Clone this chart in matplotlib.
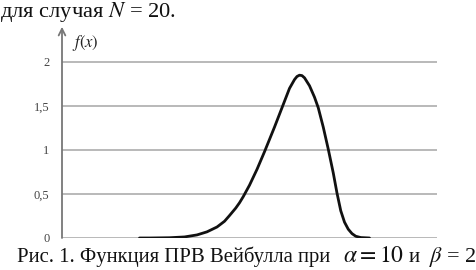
import numpy as np
import matplotlib
matplotlib.use("Agg")
import matplotlib.pyplot as plt

plt.rcParams['font.family'] = ['Liberation Serif', 'DejaVu Serif']
plt.rcParams['mathtext.fontset'] = 'stix'

# points (x in arbitrary units, axis 0..3 unlabeled)
x_vals = [0.62, 0.70, 0.86, 0.98, 1.08, 1.16, 1.24, 1.30, 1.34, 1.39, 1.42,
          1.45, 1.50, 1.56, 1.62, 1.70, 1.76, 1.82, 1.86, 1.88, 1.90, 1.92,
          1.94, 1.98, 2.02, 2.05, 2.09, 2.13, 2.17, 2.20, 2.23, 2.26, 2.29,
          2.32, 2.35, 2.39, 2.46]
f_vals = [0.0, 0.0, 0.003, 0.012, 0.035, 0.07, 0.125, 0.19, 0.255, 0.34, 0.40,
          0.47, 0.60, 0.78, 0.98, 1.26, 1.48, 1.70, 1.80, 1.835, 1.85, 1.845,
          1.82, 1.73, 1.60, 1.48, 1.26, 1.01, 0.74, 0.51, 0.31, 0.18, 0.10,
          0.05, 0.02, 0.005, 0.0]

y_ticks = [0, 0.5, 1, 1.5, 2]
y_tick_labels = ['0', '0,5', '1', '1,5', '2']

fig = plt.figure(figsize=(4.77, 2.70), dpi=100)
ax = fig.add_axes([62/477, 1-238/270, 375/477, 210/270])
ax.set_xlim(0, 3)
ax.set_ylim(0, 2.386)

# gridlines
for t in y_ticks:
    ax.axhline(t, color='#b3b3b3', lw=1.3, zorder=1)

# the curve
ax.plot(x_vals, f_vals, color='#111111', lw=2.0, zorder=3,
        solid_capstyle='round', solid_joinstyle='round')

for s in ax.spines.values():
    s.set_visible(False)
ax.set_xticks([])
ax.set_yticks(y_ticks)
ax.set_yticklabels(y_tick_labels, color='#444444', fontsize=9)
ax.tick_params(axis='y', length=0, pad=9)

# y axis with arrow
ax.annotate('', xy=(0, 2.40), xytext=(0, 0), xycoords='data',
            arrowprops=dict(arrowstyle='->', color='#777777', lw=1.3,
                            mutation_scale=12, shrinkA=0, shrinkB=0),
            annotation_clip=False)
ax.text(0.08, 2.22, '$f(x)$', fontsize=12, color='#222222', va='center')

# surrounding text
fig.text(0.0, 1-16.5/270, 'для случая $N$ = 20.', fontsize=16.2, va='baseline',
         ha='left', color='#111111')
base = 1-262/270
fig.text(17/477, base, 'Рис. 1. Функция ПРВ Вейбулла при',
         fontsize=14.9, va='baseline', ha='left', color='#111111')
fig.text(343/477, base, r'$\alpha=10$', fontsize=17, va='baseline',
         ha='left', color='#111111')
fig.text(409/477, base, 'и', fontsize=15, va='baseline',
         ha='left', color='#111111')
fig.text(429/477, base, r'$\beta$ = 2', fontsize=16, va='baseline',
         ha='left', color='#111111')

fig.savefig('out.png', dpi=100)
